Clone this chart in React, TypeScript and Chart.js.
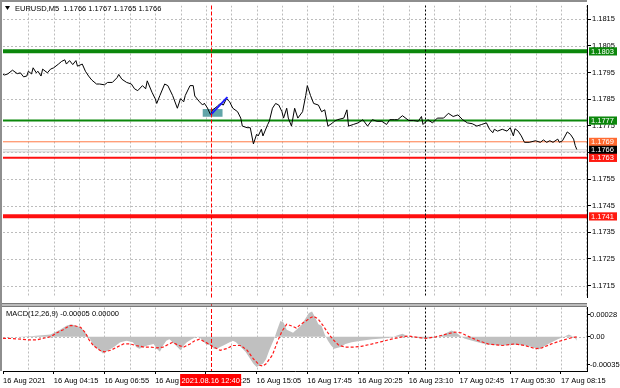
import React, { useEffect, useRef } from 'react';
import { Chart, registerables } from 'chart.js';
Chart.register(...registerables);

const FONT = "'Liberation Sans', Arial, sans-serif";
const FS = 7.5;

// ---- price series (bar index, price) ----
const priceBars = [0,1,3,6,9,11,13,15,16,18,
 19,21,22,24,25,28,30,32,35,37,
 39,40,42,44,46,47,50,52,54,56,
 59,61,64,66,69,72,73,75,78,81,
 83,85,88,90,91,94,96,97,99,102,
 104,107,110,112,114,115,118,120,121,124,
 126,127,129,131,132,135,137,139,141,143,
 145,148,150,151,154,156,158,160,161,163,
 164,167,168,170,172,174,176,177,179,180,
 182,184,186,189,191,192,194,196,199,201,
 203,205,208,209,211,215,217,218,221,224,
 227,230,233,236,239,242,244,247,249,252,
 256,259,262,264,265,268,271,274,278,281,
 284,287,290,293,296,299,302,305,307,309,
 310,312,315,318,320,322,323,325,327,329,
 332,336,339,341,343,345,347,350,351,353,
 356,358,360,361,362];
const priceValues = [1.17943,1.17941,1.17945,1.17959,1.17946,1.17949,1.17934,1.17937,1.17955,1.17945,
 1.17968,1.17949,1.17955,1.17937,1.17963,1.17949,1.17963,1.17968,1.17982,1.17992,
 1.17998,1.17982,1.17995,1.17980,1.17995,1.17974,1.17982,1.17955,1.17937,1.17922,
 1.17907,1.17907,1.17904,1.17913,1.17913,1.17931,1.17943,1.17925,1.17913,1.17907,
 1.17889,1.17882,1.17901,1.17889,1.17919,1.17876,1.17852,1.17834,1.17864,1.17907,
 1.17901,1.17864,1.17816,1.17852,1.17840,1.17864,1.17901,1.17901,1.17862,1.17840,
 1.17828,1.17835,1.17817,1.17791,1.17809,1.17822,1.17834,1.17828,1.17852,1.17840,
 1.17816,1.17803,1.17779,1.17749,1.17743,1.17743,1.17682,1.17718,1.17712,1.17737,
 1.17712,1.17755,1.17767,1.17816,1.17834,1.17828,1.17803,1.17779,1.17816,1.17779,
 1.17749,1.17816,1.17779,1.17803,1.17864,1.17901,1.17864,1.17834,1.17828,1.17803,
 1.17810,1.17749,1.17761,1.17767,1.17773,1.17779,1.17810,1.17749,1.17755,1.17761,
 1.17773,1.17749,1.17773,1.17767,1.17767,1.17755,1.17773,1.17773,1.17773,1.17788,
 1.17770,1.17770,1.17767,1.17785,1.17755,1.17773,1.17761,1.17779,1.17779,1.17797,
 1.17785,1.17791,1.17773,1.17761,1.17758,1.17749,1.17755,1.17761,1.17737,1.17724,
 1.17737,1.17730,1.17737,1.17730,1.17743,1.17712,1.17739,1.17730,1.17712,1.17688,
 1.17688,1.17694,1.17688,1.17697,1.17688,1.17694,1.17688,1.17700,1.17688,1.17694,
 1.17727,1.17718,1.17700,1.17676,1.17661];

// ---- MACD histogram ----
const macdBars = [0,9,19,30,36,40,43,49,53,55,
 57,61,63,65,70,74,78,82,84,86,
 91,95,97,99,101,103,105,107,110,112,
 114,116,119,122,124,126,128,131,133,135,
 137,139,143,145,147,150,153,156,158,160,
 162,164,166,168,171,173,175,177,179,181,
 183,184,188,193,195,197,199,201,203,205,
 207,209,213,216,220,226,233,239,245,249,
 252,254,256,260,264,268,273,277,281,283,
 286,288,291,296,302,306,315,323,329,334,
 338,344,350,355,357,359,361,362];
const macdValues = [0.00000,0.00000,0.00001,0.00003,0.00009,0.00014,0.00016,0.00012,0.00003,-0.00003,
 -0.00011,-0.00017,-0.00021,-0.00019,-0.00013,-0.00007,-0.00005,-0.00007,-0.00013,-0.00015,
 -0.00011,-0.00009,-0.00015,-0.00019,-0.00011,-0.00005,-0.00003,-0.00007,-0.00013,-0.00017,
 -0.00011,-0.00007,-0.00003,0.00000,-0.00001,-0.00005,-0.00009,-0.00011,-0.00015,-0.00015,
 -0.00013,-0.00011,-0.00007,-0.00005,-0.00007,-0.00013,-0.00019,-0.00028,-0.00034,-0.00038,
 -0.00036,-0.00034,-0.00028,-0.00017,-0.00003,0.00009,0.00020,0.00018,0.00009,0.00007,
 0.00005,0.00007,0.00014,0.00030,0.00032,0.00024,0.00016,0.00014,0.00003,-0.00005,
 -0.00011,-0.00015,-0.00013,-0.00009,-0.00007,-0.00005,-0.00003,-0.00002,-0.00001,0.00002,
 0.00004,0.00002,0.00000,-0.00001,-0.00002,-0.00002,-0.00001,0.00002,0.00006,0.00008,
 0.00005,0.00002,-0.00002,-0.00005,-0.00008,-0.00010,-0.00011,-0.00010,-0.00011,-0.00013,
 -0.00016,-0.00009,-0.00003,0.00001,0.00003,0.00001,-0.00002,-0.00005];

// ---- MACD signal ----
const signalBars = [0,4,11,17,21,25,30,34,38,42,
 45,49,52,54,57,61,64,68,72,76,
 80,84,89,93,97,101,105,107,111,114,
 118,121,124,128,133,137,141,145,150,154,
 158,162,164,166,170,173,176,179,183,185,
 188,191,194,196,199,202,205,208,212,216,
 221,226,233,239,245,252,256,262,267,273,
 279,285,289,293,300,306,315,323,329,336,
 340,346,352,359,362];
const signalValues = [-0.00002,-0.00002,-0.00003,-0.00004,-0.00004,-0.00002,0.00000,0.00005,0.00009,0.00014,
 0.00014,0.00012,0.00005,-0.00003,-0.00011,-0.00017,-0.00019,-0.00017,-0.00013,-0.00009,
 -0.00009,-0.00011,-0.00013,-0.00013,-0.00014,-0.00013,-0.00009,-0.00007,-0.00011,-0.00013,
 -0.00009,-0.00005,-0.00003,-0.00007,-0.00013,-0.00017,-0.00015,-0.00011,-0.00011,-0.00017,
 -0.00028,-0.00036,-0.00037,-0.00034,-0.00023,-0.00007,0.00007,0.00016,0.00013,0.00011,
 0.00016,0.00020,0.00024,0.00026,0.00022,0.00014,0.00005,-0.00003,-0.00011,-0.00013,
 -0.00013,-0.00012,-0.00009,-0.00006,-0.00003,0.00000,0.00001,-0.00001,-0.00002,0.00000,
 0.00003,0.00006,0.00005,0.00001,-0.00005,-0.00009,-0.00011,-0.00009,-0.00011,-0.00015,
 -0.00014,-0.00009,-0.00005,-0.00001,0.00000];

// ---- axes ----
const priceTicks = [1.1715,1.1725,1.1735,1.1745,1.1755,1.1765,1.1775,1.1785,1.1795,1.1805,1.1815];
const macdTicks = [0.00028, 0, -0.00035];
const timeLabelBars = [0,32,64,96,128,160,192,224,256,288,320,352];
const timeLabels = ['16 Aug 2021','16 Aug 04:15','16 Aug 06:55','16 Aug 09:35','16 Aug 12:25','16 Aug 15:05',
 '16 Aug 17:45','16 Aug 20:25','16 Aug 23:10','17 Aug 02:45','17 Aug 05:30','17 Aug 08:15'];
const X_MAX = 368.45;
const Y_MIN = 1.17105, Y_MAX = 1.18202;
const M_MIN = -0.000432, M_MAX = 0.00037;

// ---- horizontal levels ----
const levelValues = [1.1803, 1.1777, 1.1769, 1.1763, 1.1741];
const levelColors = ['#0b870b', '#0b870b', '#ff7a45', '#ff1010', '#ff1010'];
const levelWidths = [4, 2, 1, 2, 4];
const quoteValues = [1.1766, 1.17652];
const axisLabelValues = [1.1803, 1.1777, 1.1769, 1.1766, 1.1763, 1.1741];
const axisLabelColors = ['#0b870b', '#0b870b', '#ff6a30', '#000000', '#ff1a10', '#ff1a10'];

// ---- objects ----
const arrowBars = [131, 141.6];
const arrowValues = [1.17791, 1.17858];
const boxBars = [126, 138.5];
const boxValues = [1.17784, 1.17813];
const crosshairBar = 131;
const crosshairLabel = '2021.08.16 12:40';
const separatorBar = 266;
const titleText = 'EURUSD,M5  1.1766 1.1767 1.1765 1.1766';
const macdText = 'MACD(12,26,9) -0.00005 0.00000';

const pts = (xs: number[], ys: number[]) => xs.map((x, i) => ({ x, y: ys[i] }));
const font = (s = FS) => `${s}px ${FONT}`;

function vline(ctx: any, px: number, top: number, bottom: number) {
  ctx.moveTo(px, top); ctx.lineTo(px, bottom);
}

const mainDecor = {
  id: 'mainDecor',
  beforeDatasetsDraw(chart: any) {
    const { ctx, chartArea: a } = chart;
    const xs = chart.scales.x, ys = chart.scales.y;
    ctx.save();
    ctx.beginPath(); ctx.rect(a.left, a.top, a.right - a.left, a.bottom - a.top); ctx.clip();
    ctx.strokeStyle = '#bcbcbc'; ctx.lineWidth = 1; ctx.setLineDash([2, 2]);
    ctx.beginPath();
    for (let b = 16; b < X_MAX; b += 16) vline(ctx, Math.round(xs.getPixelForValue(b)) + 0.5, a.top, a.bottom);
    for (const t of priceTicks) {
      const py = Math.round(ys.getPixelForValue(t)) + 0.5;
      ctx.moveTo(a.left, py); ctx.lineTo(a.right, py);
    }
    ctx.stroke();
    ctx.setLineDash([]);
    const x0 = xs.getPixelForValue(boxBars[0]), x1 = xs.getPixelForValue(boxBars[1]);
    const y0 = ys.getPixelForValue(boxValues[1]), y1 = ys.getPixelForValue(boxValues[0]);
    ctx.fillStyle = 'rgba(80,155,160,0.9)';
    ctx.fillRect(x0, y0, x1 - x0, y1 - y0);
    ctx.restore();
  },
  afterDatasetsDraw(chart: any) {
    const { ctx, chartArea: a } = chart;
    const xs = chart.scales.x;
    ctx.save();
    ctx.lineWidth = 1;
    ctx.setLineDash([4, 2]);
    ctx.strokeStyle = 'rgb(255,0,0)';
    ctx.beginPath(); vline(ctx, Math.round(xs.getPixelForValue(crosshairBar)) + 0.5, a.top, a.bottom); ctx.stroke();
    ctx.setLineDash([2, 2]);
    ctx.strokeStyle = '#000000';
    ctx.beginPath(); vline(ctx, Math.round(xs.getPixelForValue(separatorBar)) + 0.5, a.top, a.bottom); ctx.stroke();
    ctx.restore();
  },
  afterDraw(chart: any) {
    const { ctx, chartArea: a } = chart;
    const ys = chart.scales.y;
    ctx.save();
    ctx.fillStyle = '#8e8e8e';
    ctx.fillRect(0, 0, 2, chart.height);
    ctx.fillRect(0, 0, a.right, 2);
    // title
    ctx.fillStyle = '#000';
    ctx.beginPath(); ctx.moveTo(5, 6); ctx.lineTo(10, 6); ctx.lineTo(7.5, 10); ctx.closePath(); ctx.fill();
    ctx.font = font(); ctx.textBaseline = 'middle'; ctx.textAlign = 'left';
    ctx.fillText(titleText, 15, 8.5);
    // axis price labels
    axisLabelValues.forEach((v, i) => {
      const py = ys.getPixelForValue(v);
      ctx.fillStyle = axisLabelColors[i];
      ctx.fillRect(589, py - 4, 28, 8.2);
      ctx.fillStyle = '#fff';
      ctx.fillText(v.toFixed(4), 591, py + 0.5);
    });
    ctx.restore();
  },
};

const macdDecor = {
  id: 'macdDecor',
  beforeDatasetsDraw(chart: any) {
    const { ctx, chartArea: a } = chart;
    const xs = chart.scales.x, ys = chart.scales.y;
    ctx.save();
    ctx.strokeStyle = '#bcbcbc'; ctx.lineWidth = 1; ctx.setLineDash([2, 2]);
    ctx.beginPath();
    for (let b = 16; b < X_MAX; b += 16) vline(ctx, Math.round(xs.getPixelForValue(b)) + 0.5, a.top, a.bottom);
    const pz = Math.round(ys.getPixelForValue(0)) + 0.5;
    ctx.moveTo(a.left, pz); ctx.lineTo(a.right, pz);
    ctx.stroke();
    ctx.restore();
  },
  afterDatasetsDraw(chart: any) {
    const { ctx, chartArea: a } = chart;
    const xs = chart.scales.x;
    ctx.save();
    ctx.lineWidth = 1;
    ctx.setLineDash([4, 2]);
    ctx.strokeStyle = 'rgb(255,0,0)';
    ctx.beginPath(); vline(ctx, Math.round(xs.getPixelForValue(crosshairBar)) + 0.5, 0, a.bottom); ctx.stroke();
    ctx.setLineDash([2, 2]);
    ctx.strokeStyle = '#000000';
    ctx.beginPath(); vline(ctx, Math.round(xs.getPixelForValue(separatorBar)) + 0.5, a.top, a.bottom); ctx.stroke();
    ctx.restore();
  },
  afterDraw(chart: any) {
    const { ctx, chartArea: a } = chart;
    const xs = chart.scales.x;
    ctx.save();
    ctx.fillStyle = '#7a7a7a';
    ctx.fillRect(0, 0, a.right, 1.5);
    ctx.fillRect(0, 2.5, a.right, 1.5);
    ctx.fillStyle = '#8e8e8e';
    ctx.fillRect(0, 0, 2, a.bottom);
    ctx.fillStyle = '#000';
    ctx.font = font(); ctx.textBaseline = 'middle'; ctx.textAlign = 'left';
    ctx.fillText(macdText, 6, 10.5);
    const cx = xs.getPixelForValue(crosshairBar);
    ctx.fillStyle = '#ff0000';
    ctx.fillRect(cx - 30.5, a.bottom + 3, 61, 12);
    ctx.fillStyle = '#fff'; ctx.textAlign = 'center';
    ctx.fillText(crosshairLabel, cx, a.bottom + 9.5);
    ctx.restore();
  },
};

export default function App() {
  const mainRef = useRef<HTMLCanvasElement>(null);
  const macdRef = useRef<HTMLCanvasElement>(null);

  useEffect(() => {
    Chart.defaults.font.family = FONT;
    const common: any = {
      animation: false, responsive: false, maintainAspectRatio: false, devicePixelRatio: 1, events: [],
      plugins: { legend: { display: false }, tooltip: { enabled: false } },
      elements: { point: { radius: 0 }, line: { tension: 0 } },
    };
    const levelSets = levelValues.map((v, i) => ({
      data: [{ x: 0, y: v }, { x: X_MAX, y: v }],
      borderColor: levelColors[i], borderWidth: levelWidths[i], pointRadius: 0,
    }));
    const quoteSets = quoteValues.map((v) => ({
      data: [{ x: 0, y: v }, { x: X_MAX, y: v }],
      borderColor: '#cdcdcd', borderWidth: 1, pointRadius: 0,
    }));
    const main = new Chart(mainRef.current as any, {
      type: 'line',
      data: {
        datasets: [
          { data: pts(arrowBars, arrowValues), borderColor: '#1c1cff', borderWidth: 2, pointRadius: 0 },
          { data: pts(priceBars, priceValues), borderColor: '#000000', borderWidth: 1, pointRadius: 0 },
          ...levelSets,
          ...quoteSets,
        ] as any,
      },
      options: {
        ...common,
        layout: { padding: { left: 3, right: 0, top: 2, bottom: 0 } },
        scales: {
          x: { type: 'linear', display: false, min: 0, max: X_MAX },
          y: {
            type: 'linear', position: 'right', min: Y_MIN, max: Y_MAX,
            afterBuildTicks: (s: any) => { s.ticks = priceTicks.map((value) => ({ value })); },
            afterFit: (s: any) => { s.width = 33; },
            ticks: { autoSkip: false, color: '#000', padding: 1, font: { size: FS, family: FONT },
              callback: (v: any) => Number(v).toFixed(4) },
            grid: { drawOnChartArea: false, drawTicks: true, tickLength: 4, color: '#000' },
            border: { display: true, color: '#000', width: 1 },
          },
        },
      },
      plugins: [mainDecor],
    } as any);

    const macd = new Chart(macdRef.current as any, {
      type: 'line',
      data: {
        datasets: [
          { data: pts(signalBars, signalValues), borderColor: '#ff1a1a', borderWidth: 1.2, borderDash: [3, 2], pointRadius: 0 },
          { data: pts(macdBars, macdValues), borderWidth: 0, borderColor: 'rgba(0,0,0,0)', backgroundColor: '#c0c0c0', fill: 'origin', pointRadius: 0 },
        ] as any,
      },
      options: {
        ...common,
        layout: { padding: { left: 3, right: 0, top: 3, bottom: 0 } },
        scales: {
          x: {
            type: 'linear', position: 'bottom', min: 0, max: X_MAX,
            afterBuildTicks: (s: any) => { s.ticks = timeLabelBars.map((value) => ({ value })); },
            afterFit: (s: any) => { s.height = 17; },
            ticks: { autoSkip: false, maxRotation: 0, minRotation: 0, align: 'start', color: '#000', padding: 2,
              font: { size: FS, family: FONT }, callback: (_v: any, i: number) => timeLabels[i] },
            grid: { drawOnChartArea: false, drawTicks: true, tickLength: 3, color: '#000' },
            border: { display: true, color: '#000', width: 1 },
          },
          y: {
            type: 'linear', position: 'right', min: M_MIN, max: M_MAX,
            afterBuildTicks: (s: any) => { s.ticks = macdTicks.map((value) => ({ value })); },
            afterFit: (s: any) => { s.width = 33; },
            ticks: { autoSkip: false, color: '#000', padding: 0, font: { size: FS, family: FONT },
              callback: (v: any) => (Number(v) === 0 ? '0.00' : Number(v).toFixed(5)) },
            grid: { drawOnChartArea: false, drawTicks: true, tickLength: 3, color: '#000' },
            border: { display: true, color: '#000', width: 1 },
          },
        },
      },
      plugins: [macdDecor],
    } as any);

    return () => { main.destroy(); macd.destroy(); };
  }, []);

  return (
    <div style={{ position: 'fixed', left: 0, top: 0, width: 620, height: 388, background: '#fff', overflow: 'hidden' }}>
      <canvas ref={mainRef} width={620} height={303} style={{ position: 'absolute', left: 0, top: 0, width: 620, height: 303 }} />
      <canvas ref={macdRef} width={620} height={85} style={{ position: 'absolute', left: 0, top: 303, width: 620, height: 85 }} />
    </div>
  );
}
